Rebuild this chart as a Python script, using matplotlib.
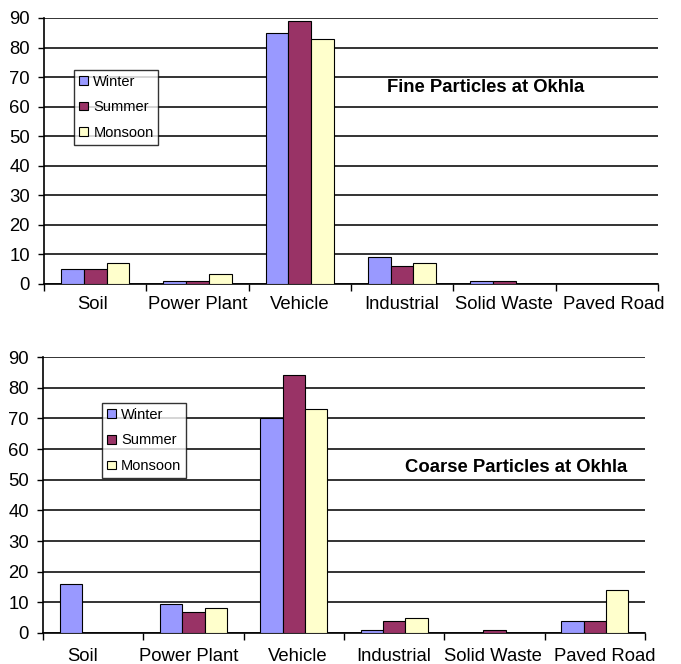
import matplotlib.pyplot as plt
import matplotlib.transforms as mtransforms
import numpy as np

plt.rcParams["font.family"] = ["Liberation Sans", "DejaVu Sans"]

sources = ["Soil", "Power Plant", "Vehicle", "Industrial", "Solid Waste", "Paved Road"]
seasons = ["Winter", "Summer", "Monsoon"]
season_colors = ["#9999FF", "#993366", "#FFFFCC"]

# source contributions (%) per season
fine_winter = [5, 1, 85, 9, 1, 0]
fine_summer = [5, 1, 89, 6, 1, 0]
fine_monsoon = [7, 3.3, 83, 7, 0, 0]

coarse_winter = [16, 9.3, 70, 1, 0, 4]
coarse_summer = [0, 7, 84, 4, 1, 4]
coarse_monsoon = [0, 8, 73, 5, 0, 14]


def _panel(ax, series, title, title_xy, legend_xy, label_pad, label_nudge):
    x = np.arange(len(sources))
    w = 1 / 4.5                                   # 3 bars + 150% gap per category
    for i, (vals, name, col) in enumerate(zip(series, seasons, season_colors)):
        ax.bar(x + (i - 1) * w, vals, w, color=col, edgecolor="black",
               linewidth=0.8, label=name, zorder=3)
    ax.set_xlim(-0.5, len(sources) - 0.5)
    ax.set_ylim(0, 90)
    ax.set_yticks(range(0, 91, 10))
    ax.yaxis.grid(True, color="#111111", linewidth=1.2, zorder=0)
    ax.set_axisbelow(True)
    # major ticks sit on the category boundaries, labels on the centres
    ax.set_xticks(np.arange(len(sources) + 1) - 0.5)
    ax.set_xticklabels([])
    ax.set_xticks(x, minor=True)
    ax.set_xticklabels(sources, minor=True, fontsize=13.3)
    ax.tick_params(axis="x", which="major", length=5, width=1, direction="out")
    ax.tick_params(axis="x", which="minor", length=0, pad=label_pad)
    ax.tick_params(axis="y", length=4, width=1, labelsize=13.3, pad=6)
    # crowded category labels get pushed sideways a few pixels
    for lbl, dx in zip(ax.get_xticklabels(minor=True), label_nudge):
        lbl.set_transform(lbl.get_transform() +
                          mtransforms.ScaledTranslation(dx / 100, 0, ax.figure.dpi_scale_trans))
    for s in ("top", "right"):
        ax.spines[s].set_visible(False)
    for s in ("left", "bottom"):
        ax.spines[s].set_linewidth(1.2)
    ax.text(*title_xy, title, transform=ax.transAxes, ha="center", va="center",
            fontsize=13.3, fontweight="bold")
    leg = ax.legend(loc="upper left", bbox_to_anchor=legend_xy, fontsize=10.5,
                    frameon=True, fancybox=False, handlelength=0.62, handleheight=0.55,
                    handletextpad=0.38, labelspacing=0.8, borderpad=0.32, borderaxespad=0)
    leg.get_frame().set_edgecolor("black")
    leg.get_frame().set_linewidth(1.0)
    leg.set_zorder(5)


fig = plt.figure(figsize=(6.81, 6.64), dpi=100)
ax_fine = fig.add_axes([0.0646, 0.5723, 0.9014, 0.4006])
ax_coarse = fig.add_axes([0.0631, 0.0467, 0.884, 0.4156])

_panel(ax_fine, [fine_winter, fine_summer, fine_monsoon],
       "Fine Particles at Okhla", (0.72, 0.737), (0.049, 0.805),
       9, [-3, 0, 0, 0, 0, 7])
_panel(ax_coarse, [coarse_winter, coarse_summer, coarse_monsoon],
       "Coarse Particles at Okhla", (0.786, 0.598), (0.098, 0.833),
       11, [-11, -5, 4, 0, -2, 10])

fig.savefig("out.png", dpi=100)
